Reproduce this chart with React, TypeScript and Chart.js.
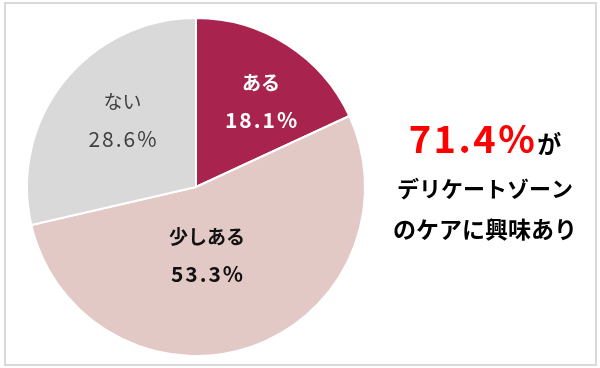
import React, { useEffect, useRef } from "react";
import { Chart, registerables } from "chart.js";

Chart.register(...registerables);

const categories = ["ある", "少しある", "ない"];
const values = [18.1, 53.3, 28.6];
const valueLabels = ["18.1%", "53.3%", "28.6%"];
const sliceColors = ["#A9234F", "#E2C9C5", "#D9D9D9"];
const headline = "71.4%";
const headlineSuffix = "が";
const messageLines = ["デリケートゾーン", "のケアに興味あり"];

const JP = '"Noto Sans CJK JP", "Noto Sans", sans-serif';

// label block centre relative to pie centre, in fractions of the radius
const labelAnchors = [
  { fx: 0.385, fy: -0.505, color: "#FFFFFF", weight: "bold" },
  { fx: 0.065, fy: 0.408, color: "#111111", weight: "bold" },
  { fx: -0.435, fy: -0.39, color: "#404040", weight: "normal" },
];

const framePlugin = {
  id: "frame",
  beforeDraw(chart: any) {
    const ctx = chart.ctx;
    ctx.save();
    ctx.fillStyle = "#FFFFFF";
    ctx.fillRect(0, 0, chart.width, chart.height);
    ctx.strokeStyle = "#D9D9D9";
    ctx.lineWidth = 2;
    ctx.strokeRect(5, 3, 591, 362);
    ctx.restore();
  },
};

const labelPlugin = {
  id: "sliceLabels",
  afterDraw(chart: any) {
    const ctx = chart.ctx;
    const meta = chart.getDatasetMeta(0);
    ctx.save();
    ctx.textAlign = "center";
    ctx.textBaseline = "middle";
    meta.data.forEach((arc: any, i: number) => {
      const a = labelAnchors[i];
      const r = arc.outerRadius;
      const cx = arc.x + a.fx * r;
      const cy = arc.y + a.fy * r;
      ctx.fillStyle = a.color;
      ctx.font = `${a.weight} 19px ${JP}`;
      (ctx as any).letterSpacing = "0px";
      ctx.fillText(categories[i], cx, cy - 19);
      ctx.font = `${a.weight} 21px ${JP}`;
      (ctx as any).letterSpacing = "2px";
      ctx.fillText(valueLabels[i], cx + 1, cy + 18);
    });
    (ctx as any).letterSpacing = "0px";

    // right-hand message
    const mx = 485;
    ctx.textBaseline = "alphabetic";
    ctx.textAlign = "left";
    ctx.font = `bold 38px ${JP}`;
    (ctx as any).letterSpacing = "2.5px";
    const w1 = ctx.measureText(headline).width;
    ctx.font = `bold 24px ${JP}`;
    (ctx as any).letterSpacing = "0px";
    const w2 = ctx.measureText(headlineSuffix).width;
    const start = mx - (w1 + w2) / 2;
    ctx.font = `bold 38px ${JP}`;
    (ctx as any).letterSpacing = "2.5px";
    ctx.fillStyle = "#FF0000";
    ctx.fillText(headline, start, 153);
    (ctx as any).letterSpacing = "0px";
    ctx.font = `bold 24px ${JP}`;
    ctx.fillStyle = "#000000";
    ctx.fillText(headlineSuffix, start + w1, 153);
    ctx.textAlign = "center";
    ctx.textBaseline = "middle";
    ctx.font = `bold 22px ${JP}`;
    ctx.fillText(messageLines[0], mx, 189);
    ctx.font = `bold 23px ${JP}`;
    ctx.fillText(messageLines[1], mx, 229);
    ctx.restore();
  },
};

export default function App() {
  const ref = useRef<HTMLCanvasElement | null>(null);
  useEffect(() => {
    document.body.style.margin = "0";
    const chart = new Chart(ref.current as HTMLCanvasElement, {
      type: "pie",
      data: {
        labels: categories,
        datasets: [
          {
            data: values,
            backgroundColor: sliceColors,
            borderColor: "#FFFFFF",
            borderWidth: 2,
          },
        ],
      },
      options: {
        animation: false,
        responsive: false,
        layout: { padding: { left: 26, right: 234, top: 17, bottom: 11 } },
        plugins: {
          legend: { display: false },
          tooltip: { enabled: false },
        },
      },
      plugins: [framePlugin, labelPlugin],
    });
    return () => chart.destroy();
  }, []);
  return (
    <div style={{ width: 600, height: 368 }}>
      <canvas ref={ref} width={600} height={368} style={{ display: "block" }} />
    </div>
  );
}
